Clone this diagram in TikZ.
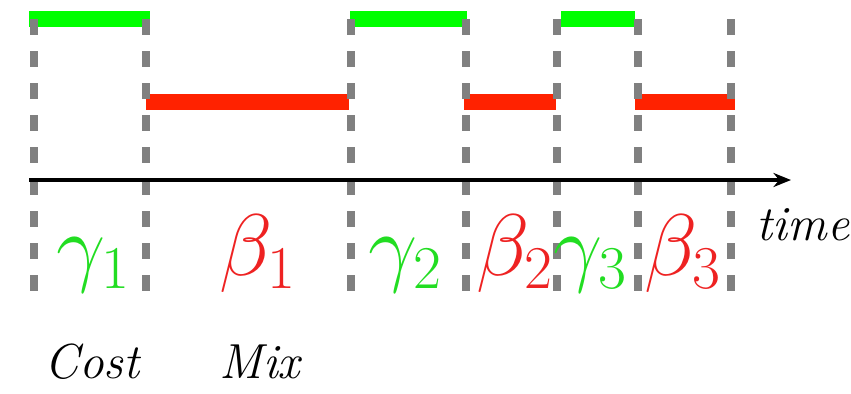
\documentclass[tikz,border=0pt]{standalone}
\usepackage{amsmath, amssymb}
\usepackage{tikz}
\usetikzlibrary{positioning, arrows.meta}
\usepackage{xcolor}
\definecolor{bargreen}{HTML}{00FF00}
\definecolor{barred}{HTML}{FF2200}
\definecolor{labgreen}{HTML}{22DD22}
\definecolor{labred}{HTML}{EE2222}
\tikzset{
  phasebar/.style={line width=4.55pt},
  divider/.style={draw=gray, line width=2.3pt, dash pattern=on 4.55pt off 4.55pt},
  timeaxis/.style={line width=1.4pt, -{Stealth[length=5pt, width=4pt]}},
  phaselab/.style={inner sep=0pt, anchor=base, font=\fontsize{23}{27}\selectfont},
  wordlab/.style={inner sep=0pt, anchor=base, font=\fontsize{14}{17}\selectfont\itshape}
}

\begin{document}
\begin{tikzpicture}[x=0.01cm, y=-0.01cm]
  \useasboundingbox (0,0) rectangle (851,393);
  \foreach \a/\b in {29/150,350/467,561/635}
    \draw[phasebar, bargreen] (\a,19) -- (\b,19);
  \foreach \a/\b in {146/349,464/556,635/735}
    \draw[phasebar, barred] (\a,102) -- (\b,102);
  \foreach \x/\lab in {34/0,146/1,351/2,466/3,557/4,638/5,731/6} {
    \coordinate (top\lab) at (\x,19);
    \coordinate (bot\lab) at (\x,291);
    \draw[divider] (top\lab) -- (bot\lab);
  }
  \coordinate (origin) at (29,180);
  \coordinate (tip) at (791,180);
  \draw[timeaxis] (origin) -- (tip);
  \foreach \x/\n/\sym/\col in {94/g1/\gamma_1/labgreen,258/b1/\beta_1/labred,
      406/g2/\gamma_2/labgreen,515/b2/\beta_2/labred,
      591/g3/\gamma_3/labgreen,683/b3/\beta_3/labred}
    \node[phaselab, text=\col] (\n) at (\x,275) {$\sym$};
  \node[wordlab] (time) at (803,240) {time};
  \node[wordlab] (cost) at (92,378) {Cost};
  \node[wordlab] (mix) at (260,378) {Mix};
\end{tikzpicture}
\end{document}
